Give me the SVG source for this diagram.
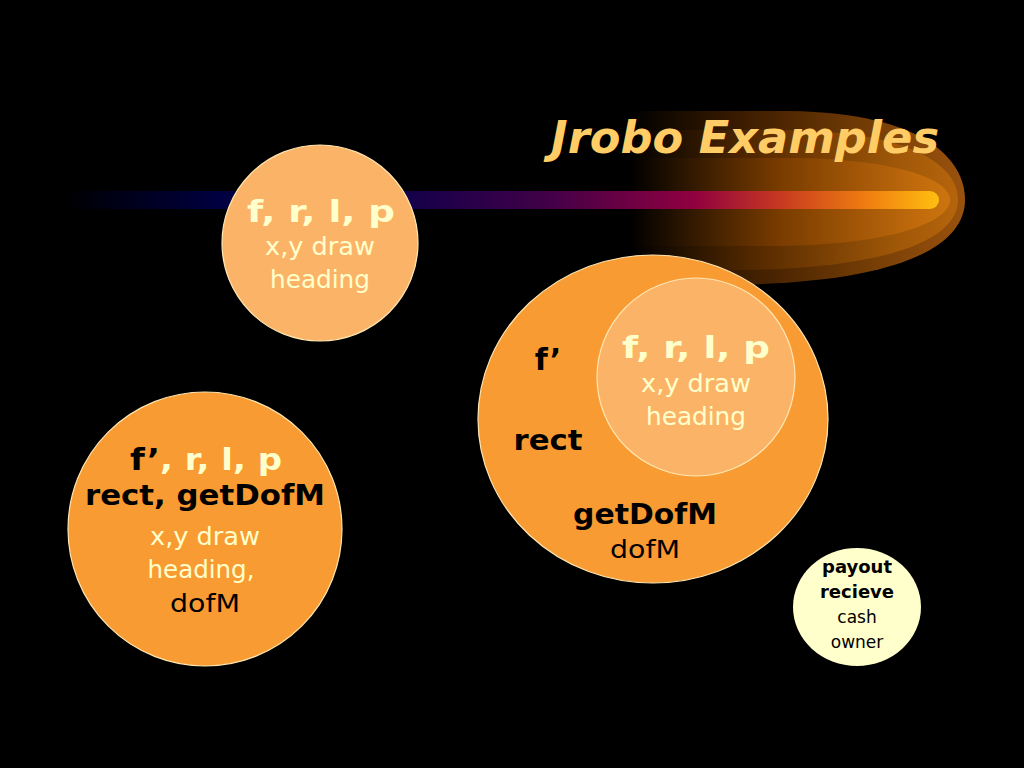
<svg xmlns="http://www.w3.org/2000/svg" width="1024" height="768" viewBox="0 0 1024 768">
<defs>
<linearGradient id="glow" x1="630" y1="0" x2="965" y2="0" gradientUnits="userSpaceOnUse">
<stop offset="0" stop-color="#000000"/>
<stop offset="0.35" stop-color="#3e1d00"/>
<stop offset="0.75" stop-color="#7a4006"/>
<stop offset="1" stop-color="#9a520e"/>
</linearGradient>
<linearGradient id="glow2" x1="630" y1="0" x2="965" y2="0" gradientUnits="userSpaceOnUse">
<stop offset="0" stop-color="#000000"/>
<stop offset="0.4" stop-color="#5a2c00"/>
<stop offset="0.8" stop-color="#a05808"/>
<stop offset="1" stop-color="#b8660c"/>
</linearGradient>
<linearGradient id="glow3" x1="630" y1="0" x2="965" y2="0" gradientUnits="userSpaceOnUse">
<stop offset="0" stop-color="#000000"/>
<stop offset="0.45" stop-color="#7a3c00"/>
<stop offset="0.85" stop-color="#c06a0c"/>
<stop offset="1" stop-color="#d07810"/>
</linearGradient>
<linearGradient id="bar" x1="60" y1="0" x2="940" y2="0" gradientUnits="userSpaceOnUse">
<stop offset="0" stop-color="#000000"/>
<stop offset="0.18" stop-color="#000040"/>
<stop offset="0.38" stop-color="#10004a"/>
<stop offset="0.55" stop-color="#400048"/>
<stop offset="0.72" stop-color="#900040"/>
<stop offset="0.82" stop-color="#c83a20"/>
<stop offset="0.92" stop-color="#f08010"/>
<stop offset="1" stop-color="#ffc010"/>
</linearGradient>
<style>
.t{font-family:"DejaVu Sans","Noto Sans",sans-serif;text-anchor:middle}
.b{font-weight:bold}
.cr{fill:#FFFFCC}
.bk{fill:#000000}
.orange{fill:#F99B33;stroke:#FFE6B0;stroke-width:1.2}
.light{fill:#FBB467;stroke:#FFE6B0;stroke-width:1.2}
</style>
</defs>
<rect width="1024" height="768" fill="#000000"/>
<g id="decor">
<path d="M630,111 L790,111 C925,113 965,160 965,200 C965,242 910,284 720,285 L630,285 Z" fill="url(#glow)"/>
<path d="M630,130 L790,130 C910,132 958,165 958,200 C958,234 905,268 740,270 L630,270 Z" fill="url(#glow2)"/>
<path d="M630,158 L800,158 C900,160 950,180 950,200 C950,220 900,244 780,246 L630,246 Z" fill="url(#glow3)"/>
<path d="M60,191 L930,191 A9,9 0 0 1 930,209 L60,209 Z" fill="url(#bar)"/>
</g>
<text class="t b" x="745" y="153" font-size="44" font-style="italic" fill="#FFCC66" textLength="388" lengthAdjust="spacingAndGlyphs">Jrobo Examples</text>
<g id="node-top">
<circle class="light" cx="320" cy="243" r="98"/>
<text class="t b cr" x="321" y="222" font-size="30" textLength="148" lengthAdjust="spacingAndGlyphs">f, r, l, p</text>
<text class="t cr" x="320" y="255" font-size="25" textLength="110" lengthAdjust="spacingAndGlyphs">x,y draw</text>
<text class="t cr" x="320" y="288" font-size="25" textLength="100" lengthAdjust="spacingAndGlyphs">heading</text>
</g>
<g id="node-big">
<ellipse class="orange" cx="653" cy="419" rx="175" ry="164"/>
<text class="t b bk" x="548" y="370" font-size="30">f’</text>
<text class="t b bk" x="548" y="450" font-size="28" textLength="69" lengthAdjust="spacingAndGlyphs">rect</text>
<text class="t b bk" x="645" y="524" font-size="28" textLength="144" lengthAdjust="spacingAndGlyphs">getDofM</text>
<text class="t bk" x="645" y="558" font-size="25" textLength="70" lengthAdjust="spacingAndGlyphs">dofM</text>
</g>
<g id="node-inner">
<circle class="light" cx="696" cy="377" r="99"/>
<text class="t b cr" x="696" y="358" font-size="30" textLength="148" lengthAdjust="spacingAndGlyphs">f, r, l, p</text>
<text class="t cr" x="696" y="392" font-size="25" textLength="110" lengthAdjust="spacingAndGlyphs">x,y draw</text>
<text class="t cr" x="696" y="425" font-size="25" textLength="100" lengthAdjust="spacingAndGlyphs">heading</text>
</g>
<g id="node-left">
<circle class="orange" cx="205" cy="529" r="137"/>
<text class="t b" x="206" y="470" font-size="30" textLength="152" lengthAdjust="spacingAndGlyphs"><tspan class="bk">f’</tspan><tspan class="cr">, r, l, p</tspan></text>
<text class="t b bk" x="205" y="505" font-size="28" textLength="240" lengthAdjust="spacingAndGlyphs">rect, getDofM</text>
<text class="t cr" x="205" y="545" font-size="25" textLength="110" lengthAdjust="spacingAndGlyphs">x,y draw</text>
<text class="t cr" x="201" y="578" font-size="25" textLength="107" lengthAdjust="spacingAndGlyphs">heading,</text>
<text class="t bk" x="205" y="612" font-size="25" textLength="70" lengthAdjust="spacingAndGlyphs">dofM</text>
</g>
<g id="node-cash">
<ellipse cx="857" cy="607" rx="64" ry="59" fill="#FFFFCC"/>
<text class="t b bk" x="857" y="573" font-size="18">payout</text>
<text class="t b bk" x="857" y="598" font-size="18">recieve</text>
<text class="t bk" x="857" y="623" font-size="17">cash</text>
<text class="t bk" x="857" y="648" font-size="17">owner</text>
</g>
<g id="connectors"></g>
</svg>
